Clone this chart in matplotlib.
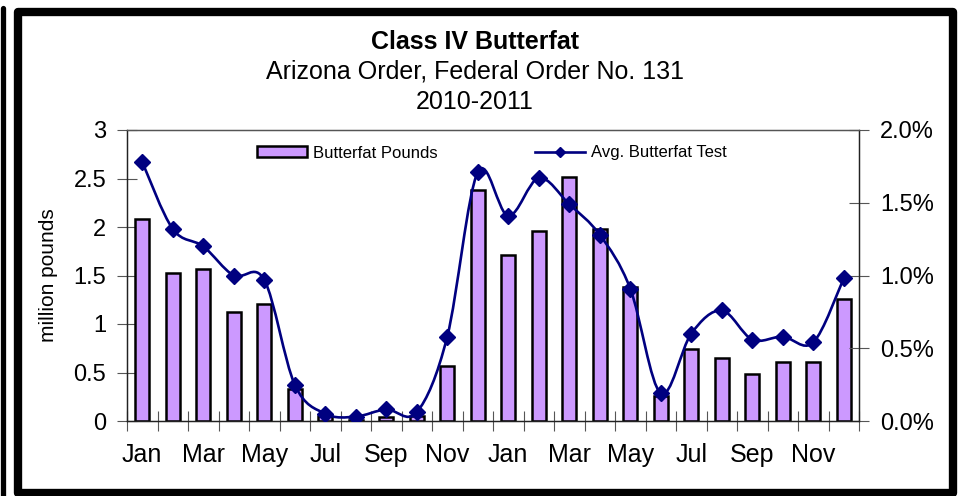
import numpy as np
import matplotlib
matplotlib.use("Agg")
import matplotlib.pyplot as plt
import matplotlib.ticker as mtick
from matplotlib.path import Path
from matplotlib.patches import PathPatch, Rectangle
from matplotlib.lines import Line2D

plt.rcParams["font.family"] = ["Liberation Sans", "DejaVu Sans"]

months = ["Jan", "Feb", "Mar", "Apr", "May", "Jun",
          "Jul", "Aug", "Sep", "Oct", "Nov", "Dec"] * 2

# million pounds
butterfat_lbs = [2.08, 1.53, 1.57, 1.12, 1.21, 0.33, 0.05, 0.01, 0.04, 0.05, 0.57, 2.38,
                 1.71, 1.96, 2.52, 1.98, 1.38, 0.26, 0.74, 0.65, 0.48, 0.61, 0.61, 1.26]

# percent as fraction
butterfat_test = [0.0178, 0.0132, 0.0120, 0.0100, 0.0097, 0.0025, 0.0005, 0.0003, 0.0008, 0.0006, 0.0058, 0.0171,
                  0.0141, 0.0167, 0.0149, 0.0128, 0.0091, 0.0019, 0.0060, 0.0076, 0.0056, 0.0058, 0.0054, 0.0098]

BAR_COLOR = "#CC99FF"
LINE_COLOR = "#000080"


def smooth_path(xs, ys):
    """Excel-style smoothed line as cubic bezier segments."""
    pts = np.column_stack([xs, ys])
    n = len(pts)
    verts = [pts[0]]
    codes = [Path.MOVETO]
    for i in range(n - 1):
        p0 = pts[i - 1] if i > 0 else pts[i]
        p1 = pts[i]
        p2 = pts[i + 1]
        p3 = pts[i + 2] if i + 2 < n else pts[i + 1]
        c1 = p1 + (p2 - p0) / 6.0
        c2 = p2 - (p3 - p1) / 6.0
        verts += [c1, c2, p2]
        codes += [Path.CURVE4] * 3
    return Path(verts, codes)


W, H = 961, 496
fig = plt.figure(figsize=(W / 100, H / 100), dpi=100)

ax = fig.add_axes([127 / W, 75 / H, 732 / W, 291 / H])
ax2 = ax.twinx()

x = np.arange(len(months))
ax.bar(x, butterfat_lbs, width=0.45, color=BAR_COLOR, edgecolor="black",
       linewidth=1.8, label="Butterfat Pounds", zorder=2)

ax.set_xlim(-0.5, len(months) - 0.5)
ax.set_ylim(0, 3)
ax2.set_ylim(0, 0.02)

patch = PathPatch(smooth_path(x, butterfat_test), facecolor="none",
                  edgecolor=LINE_COLOR, linewidth=1.9, zorder=3)
ax2.add_patch(patch)
ax2.plot(x, butterfat_test, linestyle="none", marker="D", markersize=8.5,
         color=LINE_COLOR, zorder=4)

# category boundaries as ticks, labels every other month
ax.set_xticks(np.arange(-0.5, len(months), 1.0))
ax.set_xticklabels([])
ax.set_xticks(x[::2], minor=True)
ax.set_xticklabels(months[::2], minor=True, fontsize=18)
ax.tick_params(axis="x", which="major", direction="inout", length=14,
               width=0.8, color="#555555")
ax.tick_params(axis="x", which="minor", length=0, pad=16)

ax.set_yticks(np.arange(0, 3.01, 0.5))
ax.set_yticklabels(["0", "0.5", "1", "1.5", "2", "2.5", "3"])
ax.tick_params(axis="y", direction="inout", length=14, width=0.8,
               color="#555555", labelsize=17, pad=8)
ax2.yaxis.set_major_locator(mtick.MultipleLocator(0.005))
ax2.yaxis.set_major_formatter(mtick.PercentFormatter(xmax=1, decimals=1))
ax2.tick_params(axis="y", direction="inout", length=14, width=0.8,
                color="#555555", labelsize=17, pad=8)

ax.set_ylabel("million pounds", fontsize=15, labelpad=11)

for a in (ax, ax2):
    for s in a.spines.values():
        s.set_linewidth(0.9)
        s.set_color("#222222")
    a.spines["top"].set_color("#555555")

# legend
handles = [
    Rectangle((0, 0), 1, 1, facecolor=BAR_COLOR, edgecolor="black", linewidth=1.8),
    Line2D([0], [0], color=LINE_COLOR, linewidth=1.9, marker="D", markersize=5),
]
fig.legend(handles, ["Butterfat Pounds", "Avg. Butterfat Test"], ncol=2,
           loc="center", bbox_to_anchor=(492 / W, 1 - 153 / H), frameon=False,
           fontsize=12, handlelength=3.0, handleheight=0.6, handletextpad=0.4,
           columnspacing=5.8)

# titles
fig.text(475 / W, 1 - 42 / H, "Class IV Butterfat", ha="center", va="center",
         fontsize=18, fontweight="bold")
fig.text(475 / W, 1 - 72 / H, "Arizona Order, Federal Order No. 131", ha="center",
         va="center", fontsize=18)
fig.text(475 / W, 1 - 102 / H, "2010-2011", ha="center", va="center", fontsize=18)

# chart frame
fig.add_artist(Rectangle((17.5 / W, 3 / H), (953 - 17.5) / W, (484 - 3) / H,
                         transform=fig.transFigure, facecolor="none",
                         edgecolor="black", linewidth=6, joinstyle="round"))
fig.add_artist(Line2D([2.5 / W, 2.5 / W], [0, 1 - 8 / H], transform=fig.transFigure,
                      color="black", linewidth=3.8, solid_capstyle="round"))

fig.savefig("out.png", dpi=100)
